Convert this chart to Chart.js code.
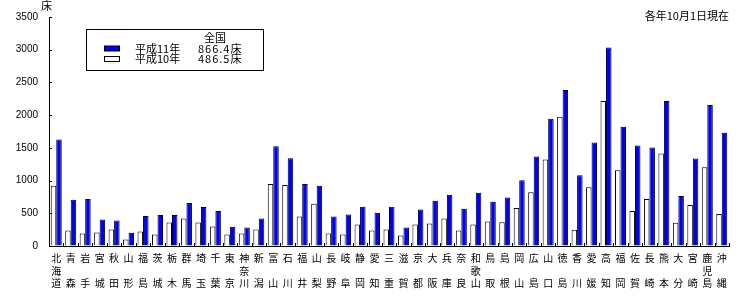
<!DOCTYPE html>
<html>
<head>
<meta charset="utf-8">
<script src="https://cdn.jsdelivr.net/npm/chart.js@4.4.0/dist/chart.umd.min.js"></script>
<style>
  html, body { margin: 0; padding: 0; background: #fff; }
  #wrap { width: 746px; height: 297px; }
</style>
</head>
<body>
<div id="wrap"><canvas id="bedChart" width="746" height="297"></canvas></div>
<script>
// 都道府県別 病床数
const prefectures = ['北海道', '青森', '岩手', '宮城', '秋田', '山形', '福島', '茨城', '栃木', '群馬',
    '埼玉', '千葉', '東京', '神奈川', '新潟', '富山', '石川', '福井', '山梨', '長野',
    '岐阜', '静岡', '愛知', '三重', '滋賀', '京都', '大阪', '兵庫', '奈良', '和歌山',
    '鳥取', '島根', '岡山', '広島', '山口', '徳島', '香川', '愛媛', '高知', '福岡',
    '佐賀', '長崎', '熊本', '大分', '宮崎', '鹿児島', '沖縄'];

const h10 = [919, 237, 192, 207, 253, 101, 222, 177, 359, 419,
    359, 298, 177, 192, 253, 949, 934, 449, 646, 192,
    177, 328, 237, 253, 162, 328, 343, 419, 237, 328,
    374, 364, 581, 823, 1323, 1975, 247, 899, 2217, 1156,
    535, 717, 1414, 354, 626, 1202, 490];

const h11 = [1626, 707, 717, 404, 389, 202, 460, 475, 475, 657,
    596, 535, 293, 283, 419, 1525, 1343, 949, 919, 449,
    480, 601, 510, 601, 283, 556, 692, 783, 571, 813,
    677, 742, 1005, 1369, 1944, 2384, 1081, 1581, 3035, 1823,
    1535, 1505, 2217, 763, 1338, 2156, 1732];

const yTicks = [0, 500, 1000, 1500, 2000, 2500, 3000, 3500];

const legendRows = [
    { label: '平成11年', total: '866.4床', fill: '#0000ff' },
    { label: '平成10年', total: '486.5床', fill: '#ffffff' }
];

const jpFont = "'Noto Sans CJK JP', 'Noto Sans', sans-serif";

// vertical labels: 3 rows, middle row empty for 2-char names
const labels = prefectures.map(p => p.length === 3 ? [p[0], p[1], p[2]] : [p[0], '', p[1]]);

const extras = {
    id: 'extras',
    afterDraw(chart) {
        const ctx = chart.ctx;
        const area = chart.chartArea;
        const x = chart.scales.x;
        const y = chart.scales.y;
        ctx.save();
        ctx.strokeStyle = '#000';
        ctx.lineWidth = 1;

        // inward y ticks
        yTicks.forEach(v => {
            const py = Math.round(y.getPixelForValue(v)) + 0.5;
            ctx.beginPath();
            ctx.moveTo(area.left, py);
            ctx.lineTo(area.left + 3, py);
            ctx.stroke();
        });

        // x ticks at category boundaries
        const n = labels.length;
        for (let i = 1; i <= n; i++) {
            const px = Math.round(x.left + i * (x.right - x.left) / n) + 0.5;
            ctx.beginPath();
            ctx.moveTo(px, area.bottom);
            ctx.lineTo(px, area.bottom - 3);
            ctx.stroke();
        }

        // unit & note
        ctx.fillStyle = '#000';
        ctx.font = '11px ' + jpFont;
        ctx.textBaseline = 'middle';
        ctx.textAlign = 'left';
        ctx.fillText('床', 41, 6);
        ctx.textAlign = 'right';
        ctx.fillText('各年10月1日現在', 729, 16);

        // legend box
        ctx.strokeRect(86.5, 29.5, 177, 41);
        ctx.textAlign = 'center';
        ctx.fillText('全国', 215, 38);
        legendRows.forEach((r, i) => {
            const cy = 48.5 + i * 10.5;
            ctx.fillStyle = r.fill;
            ctx.fillRect(104, cy - 2.5, 15, 5);
            ctx.strokeRect(104.5, cy - 2.5, 15, 5);
            ctx.fillStyle = '#000';
            ctx.textAlign = 'left';
            ctx.fillText(r.label, 135, cy);
            ctx.letterSpacing = '1px';
            ctx.fillText(r.total, 198, cy);
            ctx.letterSpacing = '0px';
        });
        ctx.restore();
    }
};

new Chart(document.getElementById('bedChart'), {
    type: 'bar',
    data: {
        labels: labels,
        datasets: [
            { label: '平成10年', data: h10, backgroundColor: '#ffffff', borderColor: '#000', borderWidth: 1 },
            { label: '平成11年', data: h11, backgroundColor: '#0000ff', borderColor: '#000', borderWidth: 1 }
        ]
    },
    options: {
        responsive: false,
        animation: false,
        layout: { padding: { top: 15, right: 17, left: 0, bottom: 0 } },
        datasets: { bar: { categoryPercentage: 0.76, barPercentage: 1.0 } },
        plugins: { legend: { display: false }, tooltip: { enabled: false } },
        scales: {
            x: {
                afterFit: s => { s.height = 51; },
                grid: { drawOnChartArea: false, drawTicks: false },
                border: { display: true, color: '#000', width: 1 },
                ticks: {
                    color: '#000', padding: 6, maxRotation: 0, autoSkip: false,
                    font: { family: jpFont, size: 10, lineHeight: 1.25 }
                }
            },
            y: {
                min: 0,
                max: 3500,
                afterFit: s => { s.width = 49; },
                afterBuildTicks: s => { s.ticks = yTicks.map(v => ({ value: v })); },
                grid: { drawOnChartArea: false, drawTicks: false },
                border: { display: true, color: '#000', width: 1 },
                ticks: {
                    color: '#000', padding: 11,
                    callback: v => String(v),
                    font: { family: "'Liberation Sans', Arial, sans-serif", size: 10 }
                }
            }
        }
    },
    plugins: [extras]
});
</script>
</body>
</html>
